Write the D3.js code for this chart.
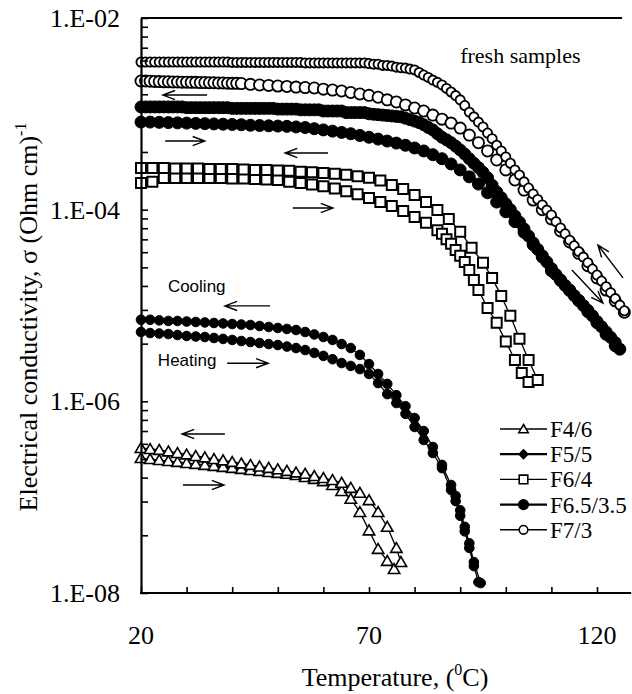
<!DOCTYPE html>
<html>
<head>
<meta charset="utf-8">
<script src="https://cdn.jsdelivr.net/npm/d3@7"></script>
<style>
  body { margin: 0; background: #fff; }
  svg { display: block; }
</style>
</head>
<body>
<svg id="chart" width="632" height="694"></svg>
<script>
// ---------------- data: electrical conductivity (S/cm) vs temperature (°C) ----------------
const seriesNames = ["F4/6", "F5/5", "F6/4", "F6.5/3.5", "F7/3"];

// F4/6
const f46HeatT = [20,22,24,26,28,30,32,34,36,38,40,42,44,46,48,50,52,54,56,58,60,62,64,66,68,70,72,74,75.5];
const f46HeatS = [2.56e-7,2.50e-7,2.44e-7,2.38e-7,2.33e-7,2.27e-7,2.22e-7,2.17e-7,2.12e-7,2.07e-7,2.02e-7,1.97e-7,1.92e-7,1.88e-7,1.83e-7,1.79e-7,1.75e-7,1.70e-7,1.62e-7,1.55e-7,1.47e-7,1.34e-7,1.16e-7,9.6e-8,7.0e-8,4.5e-8,2.88e-8,2.16e-8,1.78e-8];
const f46CoolT = [20,22,24,26,28,30,32,34,36,38,40,42,44,46,48,50,52,54,56,58,60,62,64,66,68,70,72,74,76,77];
const f46CoolS = [3.26e-7,3.18e-7,3.11e-7,3.0e-7,2.89e-7,2.79e-7,2.69e-7,2.6e-7,2.5e-7,2.42e-7,2.33e-7,2.25e-7,2.17e-7,2.09e-7,2.02e-7,1.95e-7,1.88e-7,1.81e-7,1.75e-7,1.66e-7,1.58e-7,1.51e-7,1.41e-7,1.25e-7,1.11e-7,9.3e-8,7.0e-8,4.9e-8,2.95e-8,2.1e-8];

// F5/5
const f55HeatT = [20,22,24,26,28,30,32,34,36,38,40,42,44,46,48,50,52,54,56,58,60,62,64,66,68,70,72,74,76,78,80,82,84,86,88,89,90,91,92,93,94];
const f55HeatS = [5.29e-6,5.16e-6,5.1e-6,5.04e-6,4.92e-6,4.81e-6,4.75e-6,4.69e-6,4.58e-6,4.48e-6,4.37e-6,4.26e-6,4.16e-6,4.06e-6,3.96e-6,3.87e-6,3.73e-6,3.6e-6,3.43e-6,3.2e-6,2.98e-6,2.75e-6,2.51e-6,2.34e-6,2.17e-6,1.93e-6,1.55e-6,1.19e-6,9.6e-7,7.4e-7,5.4e-7,3.95e-7,2.89e-7,2.01e-7,1.19e-7,9.1e-8,6.4e-8,4.4e-8,2.95e-8,1.91e-8,1.3e-8];
const f55CoolT = [20,22,24,26,28,30,32,34,36,38,40,42,44,46,48,50,52,54,56,58,60,62,64,66,68,70,72,74,76,78,80,82,84,86,88,89,90,91,92,93,94.5];
const f55CoolS = [7.1e-6,7.1e-6,7.0e-6,6.9e-6,6.9e-6,6.8e-6,6.73e-6,6.65e-6,6.57e-6,6.5e-6,6.41e-6,6.33e-6,6.26e-6,6.11e-6,5.97e-6,5.83e-6,5.69e-6,5.55e-6,5.29e-6,4.99e-6,4.69e-6,4.37e-6,3.96e-6,3.6e-6,3.05e-6,2.45e-6,1.93e-6,1.52e-6,1.16e-6,8.9e-7,6.7e-7,4.9e-7,3.34e-7,2.17e-7,1.34e-7,1.03e-7,7.3e-8,4.9e-8,3.3e-8,2.1e-8,1.27e-8];

// F6/4
const f64HeatT = [20,22.5,25,27.5,30,32.5,35,37.5,40,42.5,45,47.5,50,52.5,55,57.5,60,62.5,65,67.5,70,72.5,75,77.5,80,82.5,85,86,87,88,89,90,91,92,93,94,96,98,100,102,103.5,105];
const f64HeatS = [1.90e-4,1.95e-4,2.14e-4,2.14e-4,2.14e-4,2.14e-4,2.14e-4,2.14e-4,2.11e-4,2.11e-4,2.09e-4,2.06e-4,2.04e-4,1.96e-4,1.90e-4,1.83e-4,1.76e-4,1.66e-4,1.56e-4,1.45e-4,1.32e-4,1.20e-4,1.09e-4,9.7e-5,8.4e-5,7.3e-5,6.1e-5,5.6e-5,4.9e-5,4.4e-5,3.8e-5,3.3e-5,2.85e-5,2.35e-5,1.85e-5,1.45e-5,9.4e-6,6.6e-6,4.2e-6,2.7e-6,1.98e-6,1.59e-6];
const f64CoolT = [20,22.5,25,27.5,30,32.5,35,37.5,40,42.5,45,47.5,50,52.5,55,57.5,60,62.5,65,67.5,70,72.5,75,77.5,80,82.5,85,87.5,90,92.5,95,97,99,101,103,105,107];
const f64CoolS = [2.72e-4,2.72e-4,2.72e-4,2.69e-4,2.69e-4,2.69e-4,2.66e-4,2.66e-4,2.66e-4,2.63e-4,2.6e-4,2.6e-4,2.57e-4,2.54e-4,2.48e-4,2.45e-4,2.42e-4,2.37e-4,2.31e-4,2.23e-4,2.15e-4,2.02e-4,1.81e-4,1.64e-4,1.42e-4,1.2e-4,9.9e-5,8.0e-5,5.9e-5,4.0e-5,2.8e-5,1.94e-5,1.26e-5,7.8e-6,4.5e-6,2.7e-6,1.67e-6];

// F6.5/3.5
const f653HeatT = [20,22,24,26,28,30,32,34,36,38,40,42,44,46,48,50,52,54,56,58,60,62,64,66,68,70,72,74,76,78,80,82,84,86,88,90,92,94,96,98,100,102,104,106,108,110,112,114,116,118,120,122,124];
const f653HeatS = [8.2e-4,8.2e-4,8.15e-4,8.1e-4,8.05e-4,8.0e-4,7.95e-4,7.9e-4,7.85e-4,7.8e-4,7.75e-4,7.7e-4,7.6e-4,7.55e-4,7.5e-4,7.45e-4,7.4e-4,7.3e-4,7.2e-4,7.0e-4,6.8e-4,6.6e-4,6.4e-4,6.2e-4,5.95e-4,5.7e-4,5.45e-4,5.2e-4,4.95e-4,4.7e-4,4.4e-4,4.1e-4,3.75e-4,3.4e-4,3.0e-4,2.6e-4,2.2e-4,1.85e-4,1.5e-4,1.2e-4,9.5e-5,7.5e-5,5.8e-5,4.3e-5,3.2e-5,2.3e-5,1.85e-5,1.45e-5,1.12e-5,8.6e-6,6.6e-6,5.0e-6,3.8e-6];
const f653CoolT = [20,21,22,23,24,25,26,27,28,29,30,31,32,33,34,35,36,37,38,39,40,41,42,43,44,45,46,47,48,49,50,51,52,53,54,55,56,57,58,59,60,61,62,63,64,65,66,67,68,69,70,71,72,73,74,75,76,77,78,79,80,81,82,83,84,85,86,87,88,89,90,91,92,93,94,95,96,97,98,99,100,101,102,103,104,105,106,107,108,109,110,111,112,113,114,115,116,117,118,119,120,121,122,123,124,125];
const f653CoolS = [1.18e-3,1.18e-3,1.18e-3,1.18e-3,1.18e-3,1.18e-3,1.18e-3,1.18e-3,1.18e-3,1.18e-3,
  1.16e-3,1.16e-3,1.16e-3,1.16e-3,1.16e-3,1.16e-3,1.16e-3,1.16e-3,1.16e-3,1.16e-3,
  1.14e-3,1.14e-3,1.14e-3,1.14e-3,1.14e-3,1.14e-3,1.14e-3,1.14e-3,1.14e-3,1.14e-3,
  1.12e-3,1.12e-3,1.12e-3,1.12e-3,1.12e-3,1.10e-3,1.10e-3,1.10e-3,1.10e-3,1.10e-3,
  1.07e-3,1.07e-3,1.07e-3,1.07e-3,1.07e-3,1.03e-3,1.03e-3,1.03e-3,1.03e-3,1.03e-3,
  1.0e-3,9.9e-4,9.8e-4,9.7e-4,9.6e-4,9.5e-4,9.4e-4,9.3e-4,
  9.0e-4,8.7e-4,8.4e-4,8.1e-4,7.7e-4,7.2e-4,6.8e-4,6.2e-4,5.7e-4,5.35e-4,
  5.0e-4,4.6e-4,4.2e-4,3.8e-4,3.4e-4,3.05e-4,2.75e-4,2.45e-4,2.15e-4,1.8e-4,
  1.53e-4,1.33e-4,1.15e-4,1.0e-4,8.6e-5,7.4e-5,6.3e-5,5.3e-5,4.5e-5,3.85e-5,
  3.3e-5,2.85e-5,2.43e-5,2.1e-5,1.82e-5,1.62e-5,1.43e-5,1.27e-5,1.13e-5,1.0e-5,
  8.9e-6,7.8e-6,6.8e-6,6.0e-6,5.3e-6,4.65e-6,4.1e-6,3.5e-6];

// F7/3
const f73HeatT = [20,21,22,23,24,25,26,27,28,29,30,31,32,33,34,35,36,37,38,39,40,41,42,44,46,48,50,52,54,56,58,60,62,64,66,68,70,72,74,76,78,80,82,84,86,88,90,92,94,96,98,100,102,104,106,108,110,112,114,116,118,120,122,124,126];
const f73HeatS = [2.2e-3,2.2e-3,2.19e-3,2.18e-3,2.17e-3,2.16e-3,2.16e-3,2.15e-3,2.15e-3,2.14e-3,2.14e-3,2.13e-3,2.13e-3,2.12e-3,2.12e-3,2.11e-3,2.11e-3,2.1e-3,2.1e-3,2.09e-3,2.08e-3,2.08e-3,2.07e-3,
  2.03e-3,2.0e-3,1.98e-3,1.95e-3,1.93e-3,1.9e-3,1.88e-3,1.86e-3,1.81e-3,1.77e-3,
  1.73e-3,1.67e-3,1.61e-3,1.56e-3,1.49e-3,1.4e-3,1.33e-3,1.24e-3,1.15e-3,1.07e-3,
  9.7e-4,8.8e-4,8.0e-4,7.1e-4,6.0e-4,5.0e-4,4.1e-4,3.3e-4,2.6e-4,2.04e-4,
  1.6e-4,1.26e-4,1.0e-4,8.0e-5,6.0e-5,4.6e-5,3.5e-5,2.6e-5,1.94e-5,1.45e-5,1.12e-5,8.5e-6];
const f73CoolT = [20,21,22,23,24,25,26,27,28,29,30,31,32,33,34,35,36,37,38,39,40,41,42,43,44,45,46,47,48,49,50,51,52,53,54,55,56,57,58,59,60,61,62,63,64,65,66,67,68,69,70,71,72,73,74,75,76,77,78,79,80,81,82,83,84,85,86,87,88,89,90,91,92,93,94,95,96,97,98,99,100,101,102,103,104,105,106,107,108,109,110,111,112,113,114,115,116,117,118,119,120,121,122,123,124,125,126];
const f73CoolS = [3.47e-3,3.47e-3,3.47e-3,3.47e-3,3.47e-3,3.47e-3,3.47e-3,3.47e-3,3.47e-3,3.47e-3,
  3.47e-3,3.47e-3,3.47e-3,3.47e-3,3.47e-3,3.47e-3,3.47e-3,3.47e-3,3.47e-3,3.47e-3,
  3.44e-3,3.44e-3,3.44e-3,3.44e-3,3.44e-3,3.44e-3,3.44e-3,3.44e-3,3.44e-3,3.44e-3,3.44e-3,3.44e-3,3.44e-3,3.44e-3,3.44e-3,3.44e-3,
  3.4e-3,3.4e-3,3.4e-3,3.4e-3,3.4e-3,3.4e-3,3.4e-3,3.4e-3,3.4e-3,3.4e-3,3.4e-3,3.4e-3,3.4e-3,3.4e-3,
  3.35e-3,3.3e-3,3.3e-3,3.2e-3,3.2e-3,3.15e-3,3.07e-3,3.03e-3,3.0e-3,2.93e-3,
  2.87e-3,2.7e-3,2.54e-3,2.4e-3,2.25e-3,2.13e-3,2.0e-3,1.84e-3,1.69e-3,1.55e-3,
  1.4e-3,1.22e-3,1.04e-3,9.3e-4,8.2e-4,7.3e-4,6.3e-4,5.5e-4,4.7e-4,4.1e-4,
  3.55e-4,3.05e-4,2.6e-4,2.3e-4,1.95e-4,1.68e-4,1.46e-4,1.28e-4,1.12e-4,9.9e-5,
  8.8e-5,7.5e-5,6.45e-5,5.6e-5,4.8e-5,4.2e-5,3.65e-5,3.2e-5,2.8e-5,2.4e-5,
  2.08e-5,1.8e-5,1.57e-5,1.36e-5,1.18e-5,1.01e-5,8.8e-6];

// axis ticks and labels
const xTickValues = [20, 30, 40, 50, 60, 70, 80, 90, 100, 110, 120];
const xTickLabels = [20, 70, 120];
const yMajorValues = [1e-8, 1e-6, 1e-4, 1e-2];
const yMajorLabels = ["1.E-08", "1.E-06", "1.E-04", "1.E-02"];
const yMinorFactors = [4, 9, 16, 25, 36, 49, 64, 81];   // log-100 axis: minor ticks at k² within each pair of decades

// annotation arrows: [T1, sigma1, T2, sigma2] tail -> head
const arrowDefs = [
  [34.5, 1.57e-3, 24.8, 1.57e-3],
  [25.3, 5.2e-4, 34.0, 5.2e-4],
  [61.0, 3.9e-4, 51.6, 3.9e-4],
  [53.3, 1.04e-4, 62.1, 1.04e-4],
  [48.3, 9.9e-6, 38.4, 9.9e-6],
  [38.9, 2.5e-6, 47.9, 2.5e-6],
  [38.4, 4.56e-7, 29.0, 4.56e-7],
  [29.2, 1.34e-7, 38.2, 1.34e-7],
  [125.7, 1.94e-5, 120.2, 4.28e-5],
  [114.5, 2.35e-5, 121.3, 1.06e-5]
];

// ---------------- drawing ----------------
const serif = "'Liberation Serif','Times New Roman',serif";
const sans = "'Liberation Sans',Arial,sans-serif";

const svg = d3.select("#chart");
const x = d3.scaleLinear().domain([20, 120]).range([141, 597]);
const y = d3.scaleLog().domain([1e-8, 1e-2]).range([593, 18]);
const xFrameTopEnd = 125.5, xFrameBottomEnd = 127.5;

// series styles: marker shape and size per branch
const styles = {
  "F4/6":     { shape: "triangle", heat: 5.2, cool: 5.2, legend: "triangle" },
  "F5/5":     { shape: "disc",     heat: 4.8, cool: 4.8, legend: "diamond" },
  "F6/4":     { shape: "square",   heat: 5.0, cool: 5.0, legend: "square" },
  "F6.5/3.5": { shape: "disc",     heat: 6.0, cool: 6.0, legend: "disc" },
  "F7/3":     { shape: "ring",     heat: 5.6, cool: 4.6, legend: "ring" }
};
const branches = {
  "F4/6":     [[f46HeatT, f46HeatS], [f46CoolT, f46CoolS]],
  "F5/5":     [[f55HeatT, f55HeatS], [f55CoolT, f55CoolS]],
  "F6/4":     [[f64HeatT, f64HeatS], [f64CoolT, f64CoolS]],
  "F6.5/3.5": [[f653HeatT, f653HeatS], [f653CoolT, f653CoolS]],
  "F7/3":     [[f73HeatT, f73HeatS], [f73CoolT, f73CoolS]]
};

function markerPath(shape, r) {
  if (shape === "triangle") {
    const h = r * 1.9, w = r * 1.1;
    return `M0,${-h * 0.55}L${w},${h * 0.45}L${-w},${h * 0.45}Z`;
  }
  if (shape === "diamond") return `M0,${-r}L${r},0L0,${r}L${-r},0Z`;
  if (shape === "square") return `M${-r},${-r}H${r}V${r}H${-r}Z`;
  return d3.symbol(d3.symbolCircle, Math.PI * r * r)();
}
function markerFill(shape) { return (shape === "diamond" || shape === "disc") ? "#000" : "#fff"; }
function markerStrokeW(shape) { return shape === "ring" ? 1.8 : (shape === "square" ? 2 : (shape === "triangle" ? 1.6 : 1)); }

const plot = svg.append("g");
seriesNames.forEach(name => {
  const st = styles[name];
  const [[hT, hS], [cT, cS]] = branches[name];
  const heat = hT.map((t, i) => ({ t, s: hS[i] }));
  const cool = cT.map((t, i) => ({ t, s: cS[i] }));
  const run = heat.concat(cool.slice().reverse());
  const g = plot.append("g");
  g.append("path")
    .attr("d", d3.line().x(d => x(d.t)).y(d => y(d.s))(run))
    .attr("fill", "none").attr("stroke", "#000").attr("stroke-width", 1.3);
  [[heat, st.heat], [cool, st.cool]].forEach(([pts, r]) => {
    g.selectAll(null).data(pts).join("path")
      .attr("transform", d => `translate(${x(d.t)},${y(d.s)})`)
      .attr("d", markerPath(st.shape, r))
      .attr("fill", markerFill(st.shape))
      .attr("stroke", "#000")
      .attr("stroke-width", markerStrokeW(st.shape));
  });
});

// frame
svg.append("line").attr("x1", x(20)).attr("x2", x(xFrameTopEnd)).attr("y1", y(1e-2)).attr("y2", y(1e-2))
  .attr("stroke", "#000").attr("stroke-width", 1.8);
svg.append("line").attr("x1", x(20) - 1).attr("x2", x(xFrameBottomEnd)).attr("y1", y(1e-8)).attr("y2", y(1e-8))
  .attr("stroke", "#000").attr("stroke-width", 2.2);

// y axis (log, ticks pointing inward)
const yTicks = yMajorValues.concat(yMajorValues.slice(0, 3).flatMap(v => yMinorFactors.map(k => v * k)));
svg.append("g").attr("transform", `translate(${x(20)},0)`)
  .call(d3.axisLeft(y).tickValues(yTicks).tickSizeInner(-7).tickSizeOuter(0).tickFormat(""))
  .call(g => g.select(".domain").attr("stroke-width", 2.2))
  .call(g => g.selectAll(".tick line").attr("stroke-width", 1.6));

// x axis (ticks pointing inward)
svg.append("g").attr("transform", `translate(0,${y(1e-8)})`)
  .call(d3.axisBottom(x).tickValues(xTickValues).tickSizeInner(-6).tickSizeOuter(0).tickFormat(""))
  .call(g => g.select(".domain").remove())
  .call(g => g.selectAll(".tick line").attr("stroke-width", 1.6));

// tick labels
svg.append("g").selectAll("text").data(yMajorValues).join("text")
  .attr("x", 120).attr("y", d => y(d)).attr("dy", "0.35em")
  .attr("text-anchor", "end").attr("font-family", serif).attr("font-size", 26)
  .text((d, i) => yMajorLabels[i]);
svg.append("g").selectAll("text").data(xTickLabels).join("text")
  .attr("x", d => x(d)).attr("y", 644)
  .attr("text-anchor", "middle").attr("font-family", serif).attr("font-size", 26)
  .text(d => d);

// axis titles
const xt = svg.append("text").attr("x", 395).attr("y", 686).attr("text-anchor", "middle")
  .attr("font-family", serif).attr("font-size", 26);
xt.append("tspan").text("Temperature, (");
xt.append("tspan").attr("font-size", 16).attr("dy", -11).text("0");
xt.append("tspan").attr("dy", 11).text("C)");

const yt = svg.append("text").attr("transform", "translate(37,317) rotate(-90)")
  .attr("text-anchor", "middle").attr("font-family", serif).attr("font-size", 26);
yt.append("tspan").text("Electrical conductivity,  σ  (Ohm cm)");
yt.append("tspan").attr("font-size", 16).attr("dy", -11).text("-1");

// annotations
svg.append("text").attr("x", x(90)).attr("y", y(3.4e-3)).attr("font-family", serif).attr("font-size", 22)
  .text("fresh samples");
svg.append("text").attr("x", x(25.9)).attr("y", y(1.38e-5)).attr("font-family", sans).attr("font-size", 17)
  .text("Cooling");
svg.append("text").attr("x", x(23.7)).attr("y", y(2.34e-6)).attr("font-family", sans).attr("font-size", 17)
  .text("Heating");

function arrowPath(x1, y1, x2, y2) {
  const a = Math.atan2(y2 - y1, x2 - x1), L = 13, w = 0.36;
  return `M${x1},${y1}L${x2},${y2}` +
    `M${x2 - L * Math.cos(a - w)},${y2 - L * Math.sin(a - w)}L${x2},${y2}` +
    `L${x2 - L * Math.cos(a + w)},${y2 - L * Math.sin(a + w)}`;
}
svg.append("g").selectAll("path").data(arrowDefs).join("path")
  .attr("d", d => arrowPath(x(d[0]), y(d[1]), x(d[2]), y(d[3])))
  .attr("fill", "none").attr("stroke", "#000").attr("stroke-width", 1.4);

// legend
const legend = svg.append("g");
const legendTop = 429, legendStep = 25.2;
seriesNames.forEach((name, i) => {
  const st = styles[name];
  const ly = legendTop + i * legendStep;
  legend.append("line").attr("x1", 500).attr("x2", 547).attr("y1", ly).attr("y2", ly)
    .attr("stroke", "#000").attr("stroke-width", (name === "F5/5" || name === "F6.5/3.5") ? 2.2 : 1.4);
  legend.append("path").attr("transform", `translate(523.5,${ly})`)
    .attr("d", markerPath(st.legend, st.legend === "disc" ? 4.8 : 4.3))
    .attr("fill", markerFill(st.legend)).attr("stroke", "#000").attr("stroke-width", 1.6);
  legend.append("text").attr("x", 550).attr("y", ly).attr("dy", "0.35em")
    .attr("font-family", serif).attr("font-size", 23).text(name);
});
</script>
</body>
</html>
